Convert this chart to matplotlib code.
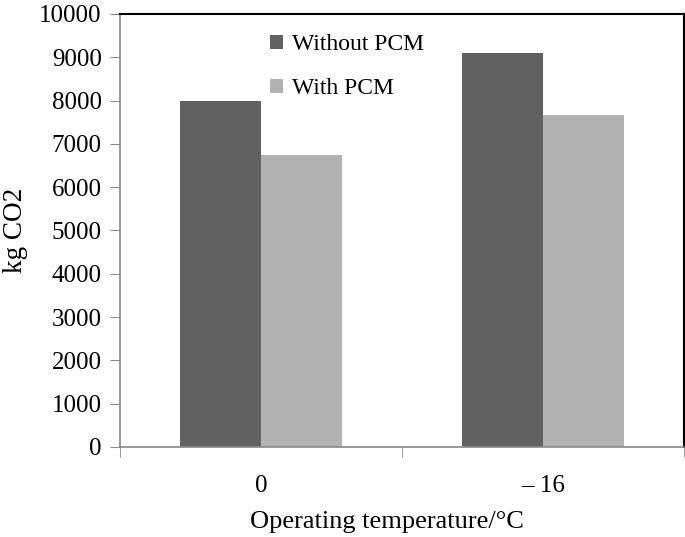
import numpy as np
import matplotlib
matplotlib.use('Agg')
import matplotlib.pyplot as plt

plt.rcParams['font.family'] = ['Liberation Serif', 'DejaVu Serif']

# Data
temperatures = ['0', '\u2013 16']
without_pcm = [8000, 9100]
with_pcm = [6750, 7670]

fig = plt.figure(figsize=(6.85, 5.37), dpi=100)
ax = fig.add_axes([0.175, 0.1676, 0.8235, 0.8064])

x = np.arange(len(temperatures))
bar_width = 0.287
ax.bar(x - bar_width / 2, without_pcm, width=bar_width, color='#616161', label='Without PCM')
ax.bar(x + bar_width / 2, with_pcm, width=bar_width, color='#b2b2b2', label='With PCM')

ax.set_xlim(-0.5, len(temperatures) - 0.5)
ax.set_ylim(0, 10000)
ax.set_yticks(range(0, 10001, 1000))

# category labels centred, tick marks at category boundaries
ax.set_xticks(x)
ax.set_xticklabels(temperatures, fontsize=18)
ax.set_xticks(np.arange(-0.5, len(temperatures), 1), minor=True)
ax.tick_params(axis='x', which='major', length=0, pad=20)
ax.tick_params(axis='x', which='minor', length=7, color='#888888', direction='out')
ax.tick_params(axis='y', length=7, color='#888888', direction='out', labelsize=18, pad=6)

for side in ['left', 'bottom']:
    ax.spines[side].set_color('#888888')
    ax.spines[side].set_linewidth(1.2)
for side in ['top', 'right']:
    ax.spines[side].set_color('black')
    ax.spines[side].set_linewidth(1.5)

ax.set_ylabel('kg CO2', fontsize=19.5, labelpad=8)
ax.set_xlabel('Operating temperature/\u00b0C', fontsize=19)
ax.xaxis.set_label_coords(0.473, -0.147)

ax.legend(loc='upper left', bbox_to_anchor=(0.266, 0.953), frameon=False, fontsize=17,
          borderpad=0, borderaxespad=0,
          handlelength=0.55, handleheight=0.55, handletextpad=0.4, labelspacing=0.96)

plt.savefig('out.png', dpi=100)
